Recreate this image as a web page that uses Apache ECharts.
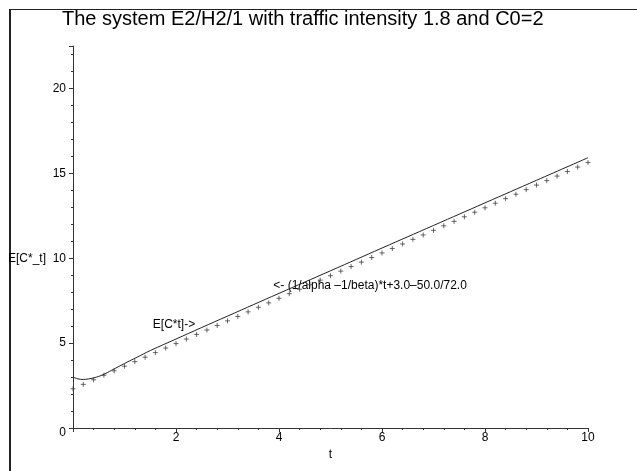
<!DOCTYPE html>
<html>
<head>
<meta charset="utf-8">
<script src="https://cdn.jsdelivr.net/npm/echarts@6/dist/echarts.min.js"></script>
<style>html,body{margin:0;padding:0;background:#fff}#c{width:637px;height:471px}</style>
</head>
<body>
<div id="c"></div>
<script>
// Data
const titleText = 'The system E2/H2/1 with traffic intensity 1.8 and C0=2';
const xTicks = [0, 2, 4, 6, 8, 10];
const yTicks = [0, 5, 10, 15, 20];
// E[C*t] curve (solid line)
const lineT = [0, 0.1, 0.2, 0.3, 0.4, 0.5, 0.6, 0.75, 1, 1.25, 1.5, 2, 2.5, 3, 4, 5, 6, 7, 8, 9, 10];
const lineV = [3.00, 2.89, 2.86, 2.89, 2.95, 3.04, 3.16, 3.40, 3.80, 4.18, 4.56, 5.24, 5.92, 6.59, 7.93, 9.26, 10.60, 11.93, 13.26, 14.59, 15.92];
// asymptote (1/alpha-1/beta)*t+3.0-50.0/72.0 (crosses)
const crossT = [0,0.2,0.4,0.6,0.8,1,1.2,1.4,1.6,1.8,2,2.2,2.4,2.6,2.8,3,3.2,3.4,3.6,3.8,4,4.2,4.4,4.6,4.8,5,5.2,5.4,5.6,5.8,6,6.2,6.4,6.6,6.8,7,7.2,7.4,7.6,7.8,8,8.2,8.4,8.6,8.8,9,9.2,9.4,9.6,9.8,10];
const crossV = [2.31,2.57,2.84,3.11,3.37,3.64,3.91,4.17,4.44,4.71,4.97,5.24,5.51,5.77,6.04,6.31,6.57,6.84,7.11,7.37,7.64,7.91,8.17,8.44,8.71,8.97,9.24,9.51,9.77,10.04,10.31,10.57,10.84,11.11,11.37,11.64,11.91,12.17,12.44,12.71,12.97,13.24,13.51,13.77,14.04,14.31,14.57,14.84,15.11,15.37,15.64];
const annot1 = {text: 'E[C*t]->', t: 1.55, v: 6.06};
const annot2 = {text: '<- (1/alpha \u20131/beta)*t+3.0\u201350.0/72.0', t: 3.89, v: 8.37};
const yName = 'E[C*_t]';
const xName = 't';

const FONT = '"Liberation Sans", Arial, sans-serif';
const AX = '#333';

const chart = echarts.init(document.getElementById('c'));
const option = {
  animation: false,
  backgroundColor: '#fff',
  title: {
    text: titleText, left: 57, top: 4,
    textStyle: {fontFamily: FONT, fontSize: 20, fontWeight: 'normal', color: '#000'}
  },
  grid: {left: 73, right: 49, top: 46, bottom: 43},
  xAxis: {
    type: 'value', min: 0, max: 10, interval: 2,
    name: xName, nameLocation: 'middle', nameGap: 18,
    nameTextStyle: {fontFamily: FONT, fontSize: 12, color: '#000'},
    axisLine: {onZero: false, lineStyle: {color: AX, width: 1}},
    axisTick: {show: true, length: 4, lineStyle: {color: AX}},
    minorTick: {show: true, splitNumber: 5, length: 2, lineStyle: {color: AX}},
    splitLine: {show: false},
    axisLabel: {
      margin: 4, fontFamily: FONT, fontSize: 12, color: '#000',
      formatter: v => (v === 0 ? '' : String(v))
    }
  },
  yAxis: {
    type: 'value', min: 0, max: 22.5, interval: 5,
    axisLine: {show: true, onZero: false, lineStyle: {color: AX, width: 1}},
    axisTick: {show: true, length: 4, lineStyle: {color: AX}},
    minorTick: {show: true, splitNumber: 5, length: 2, lineStyle: {color: AX}},
    splitLine: {show: false},
    axisLabel: {
      margin: 7, fontFamily: FONT, fontSize: 12, color: '#000',
      showMaxLabel: false,
      formatter: v => (v === 0 ? '{z|0}' : (yTicks.indexOf(v) >= 0 ? String(v) : '')),
      rich: {z: {fontFamily: FONT, fontSize: 12, color: '#000', padding: [10, 0, 0, 0]}}
    }
  },
  series: [
    {
      type: 'line', name: 'E[C*t]',
      data: lineT.map((t, i) => [t, lineV[i]]),
      smooth: 0.4, showSymbol: false, symbol: 'none',
      lineStyle: {color: '#222', width: 1}
    },
    {
      type: 'scatter', name: 'asymptote',
      data: crossT.map((t, i) => [t, crossV[i]]),
      symbol: 'path://M0,5L10,5M5,0L5,10', symbolSize: 5,
      itemStyle: {color: 'none', borderColor: '#444', borderWidth: 1}
    }
  ]
};
chart.setOption(option);

const p1 = chart.convertToPixel({gridIndex: 0}, [annot1.t, annot1.v]);
const p2 = chart.convertToPixel({gridIndex: 0}, [annot2.t, annot2.v]);
const py = chart.convertToPixel({gridIndex: 0}, [0, 10]);
chart.setOption({
  graphic: [
    {type: 'line', shape: {x1: 10, y1: 9.5, x2: 640, y2: 9.5}, style: {stroke: '#222', lineWidth: 1}, silent: true},
    {type: 'line', shape: {x1: 10, y1: 9, x2: 10, y2: 475}, style: {stroke: '#222', lineWidth: 2}, silent: true},
    {type: 'text', x: p1[0], y: p1[1], style: {text: annot1.text, font: '12px ' + FONT, fill: '#000', textVerticalAlign: 'middle', verticalAlign: 'middle'}},
    {type: 'text', x: p2[0], y: p2[1], style: {text: annot2.text, font: '12px ' + FONT, fill: '#000', textVerticalAlign: 'middle', verticalAlign: 'middle'}},
    {type: 'text', x: 8, y: py[1], style: {text: yName, font: '12px ' + FONT, fill: '#000', verticalAlign: 'middle', textVerticalAlign: 'middle'}}
  ]
});
</script>
</body>
</html>
